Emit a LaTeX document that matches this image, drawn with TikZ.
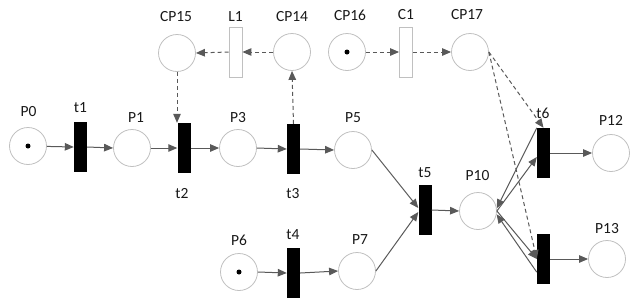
\documentclass[tikz,border=0pt]{standalone}
\usepackage{fontspec}
\setmainfont{Carlito}
\usetikzlibrary{arrows.meta}
\definecolor{edgec}{HTML}{595959}
\definecolor{placec}{HTML}{C0C0C0}
\begin{document}
\begin{tikzpicture}[x=1pt,y=-1pt,
 place/.style={circle,draw=placec,line width=0.8pt,minimum size=37pt,inner sep=0pt},
 trans/.style={rectangle,fill=black,minimum width=13pt,minimum height=50pt,inner sep=0pt},
 ctrans/.style={rectangle,draw=placec,fill=white,line width=0.8pt,minimum width=13pt,minimum height=50pt,inner sep=0pt},
 lab/.style={font=\fontsize{15.5}{18}\selectfont,inner sep=0pt,text=black!90},
 arc/.style={draw=edgec,line width=1pt,-{Triangle[length=9pt,width=7.5pt]}},
 darc/.style={arc,dash pattern=on 4pt off 3pt},
 token/.style={circle,fill=black,minimum size=5pt,inner sep=0pt}]
\useasboundingbox (0,0) rectangle (640,306);
% places
\node[place] (P0) at (28,146) {};
\node[place] (P1) at (132,148) {};
\node[place] (P3) at (238,148) {};
\node[place] (P5) at (353,150) {};
\node[place] (P6) at (239,272) {};
\node[place] (P7) at (357,271) {};
\node[place] (P10) at (478,211) {};
\node[place] (P12) at (611,153) {};
\node[place] (P13) at (607,259) {};
\node[place] (CP15) at (177,53) {};
\node[place] (CP14) at (292,52) {};
\node[place] (CP16) at (347,52) {};
\node[place] (CP17) at (470,52) {};
% tokens
\node[token] (P0tok) at (P0) {};
\node[token] (P6tok) at (P6) {};
\node[token] (CP16tok) at (CP16) {};
% transitions
\node[trans] (t1) at (80.5,147) {};
\node[trans] (t2) at (184,148) {};
\node[trans] (t3) at (293.5,149) {};
\node[trans] (t4) at (293.5,273) {};
\node[trans] (t5) at (425,210) {};
\node[trans] (t6) at (543.5,153) {};
\node[trans] (t7) at (543.5,259) {};
\node[ctrans] (L1) at (235.5,52) {};
\node[ctrans] (C1) at (406,52) {};
% labels
\node[lab] (lP0) at (28.5,112) {P0};
\node[lab] (lt1) at (80.5,108) {t1};
\node[lab] (lP1) at (136,118) {P1};
\node[lab] (lP3) at (238,118) {P3};
\node[lab] (lt2) at (182,194) {t2};
\node[lab] (lt3) at (293,194) {t3};
\node[lab] (lCP15) at (176,16.5) {CP15};
\node[lab] (lL1) at (235.5,16.5) {L1};
\node[lab] (lCP14) at (292,16.5) {CP14};
\node[lab] (lP6) at (239,240) {P6};
\node[lab] (lt4) at (293,235) {t4};
\node[lab] (lCP16) at (350,15) {CP16};
\node[lab] (lC1) at (406,15) {C1};
\node[lab] (lCP17) at (467,15) {CP17};
\node[lab] (lP5) at (353,118) {P5};
\node[lab] (lt5) at (425,172.5) {t5};
\node[lab] (lP10) at (477.5,176) {P10};
\node[lab] (lt6) at (543,113) {t6};
\node[lab] (lP12) at (611,120) {P12};
\node[lab] (lP13) at (607,229) {P13};
\node[lab] (lP7) at (360,240) {P7};
% arcs
\draw[arc] (P0) -- (t1.west);
\draw[arc] (t1.east) -- (P1.west);
\draw[arc] (P1.east) -- (t2.west);
\draw[arc] (t2.east) -- (P3.west);
\draw[arc] (P3.east) -- (t3.west);
\draw[arc] (t3.east) -- (P5.west);
\draw[arc] (P6.east) -- (t4.west);
\draw[arc] (t4.east) -- (P7.west);
\draw[arc] (P5.east) -- ([yshift=2pt]t5.west);
\draw[arc] (P7.east) -- ([yshift=-2pt]t5.west);
\draw[arc] (t5.east) -- (P10.west);
\draw[arc] (t6.north west) -- (P10.8);
\draw[arc] (P10.east) -- ([yshift=-4pt]t6.west);
\draw[arc] (P10.east) -- (t7.west);
\draw[arc] ([yshift=12pt]t7.south west) -- (P10.-10);
\draw[arc] (t6.east) -- (P12.west);
\draw[arc] (t7.east) -- (P13.west);
% dashed arcs
\draw[darc] (CP15.south) -- (CP15.south |- t2.north);
\draw[darc] (t3.north) -- (CP14.south);
\draw[darc] (CP14.west) -- (L1.east);
\draw[darc] (L1.west) -- (CP15.east);
\draw[darc] (CP16.east) -- (C1.west);
\draw[darc] (C1.east) -- (CP17.west);
\draw[darc] (CP17.east) -- (t6.north);
\draw[darc] (CP17.east) -- (t7.west);
\end{tikzpicture}
\end{document}
